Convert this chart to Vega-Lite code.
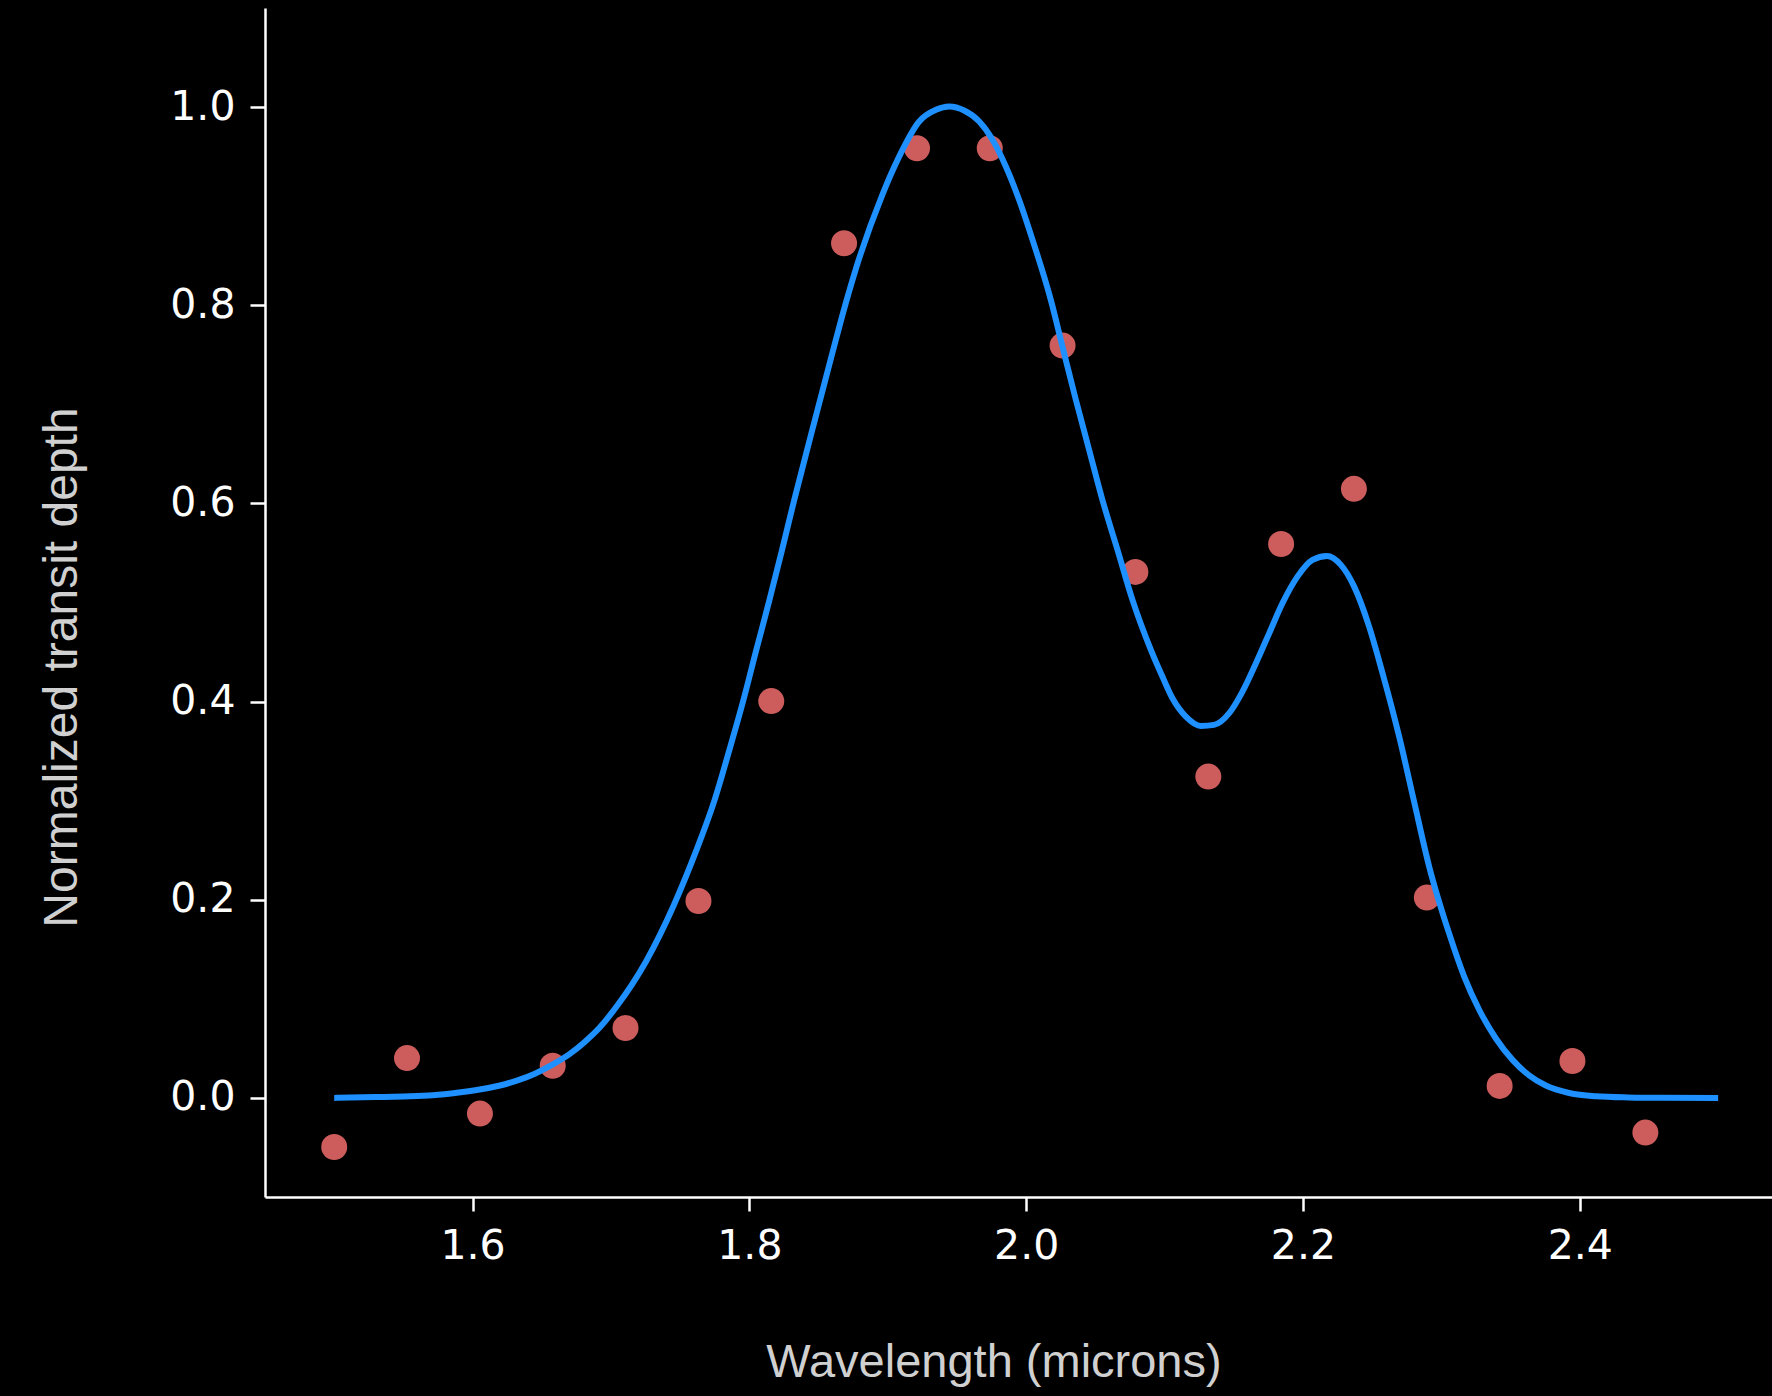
{
  "$schema": "https://vega.github.io/schema/vega-lite/v6.json",
  "width": 1507,
  "height": 1189,
  "autosize": {"type": "none"},
  "padding": {"left": 265, "top": 8, "right": 0, "bottom": 199},
  "background": "#000000",
  "config": {"view": {"stroke": null}},
  "datasets": {
    "points": [
      {"wavelength": 1.5, "depth": -0.0495},
      {"wavelength": 1.5526, "depth": 0.0402},
      {"wavelength": 1.6053, "depth": -0.0158},
      {"wavelength": 1.6579, "depth": 0.0325},
      {"wavelength": 1.7105, "depth": 0.0705},
      {"wavelength": 1.7632, "depth": 0.1988},
      {"wavelength": 1.8158, "depth": 0.4005},
      {"wavelength": 1.8684, "depth": 0.8626},
      {"wavelength": 1.9211, "depth": 0.9585},
      {"wavelength": 1.9737, "depth": 0.9585},
      {"wavelength": 2.0263, "depth": 0.7593},
      {"wavelength": 2.0789, "depth": 0.5309},
      {"wavelength": 2.1316, "depth": 0.3243},
      {"wavelength": 2.1842, "depth": 0.5591},
      {"wavelength": 2.2368, "depth": 0.6147},
      {"wavelength": 2.2895, "depth": 0.2022},
      {"wavelength": 2.3421, "depth": 0.0121},
      {"wavelength": 2.3947, "depth": 0.0373},
      {"wavelength": 2.4474, "depth": -0.035}
    ],
    "curve": [
      {"wavelength": 1.5, "depth": 0.0},
      {"wavelength": 1.53, "depth": 0.0008},
      {"wavelength": 1.55, "depth": 0.0015},
      {"wavelength": 1.571, "depth": 0.0027},
      {"wavelength": 1.59, "depth": 0.0055},
      {"wavelength": 1.605, "depth": 0.0085},
      {"wavelength": 1.619, "depth": 0.0123},
      {"wavelength": 1.632, "depth": 0.0175},
      {"wavelength": 1.645, "depth": 0.0245},
      {"wavelength": 1.6577, "depth": 0.0336},
      {"wavelength": 1.67, "depth": 0.0442},
      {"wavelength": 1.681, "depth": 0.0565},
      {"wavelength": 1.6915, "depth": 0.0705},
      {"wavelength": 1.7047, "depth": 0.0935},
      {"wavelength": 1.7252, "depth": 0.1375},
      {"wavelength": 1.7457, "depth": 0.1955},
      {"wavelength": 1.7613, "depth": 0.2485},
      {"wavelength": 1.7746, "depth": 0.2995},
      {"wavelength": 1.7854, "depth": 0.3505},
      {"wavelength": 1.7955, "depth": 0.4005},
      {"wavelength": 1.8047, "depth": 0.4505},
      {"wavelength": 1.8143, "depth": 0.5015},
      {"wavelength": 1.8235, "depth": 0.5525},
      {"wavelength": 1.8324, "depth": 0.6035},
      {"wavelength": 1.8456, "depth": 0.675},
      {"wavelength": 1.86, "depth": 0.752},
      {"wavelength": 1.8697, "depth": 0.8024},
      {"wavelength": 1.877, "depth": 0.837},
      {"wavelength": 1.8962, "depth": 0.912},
      {"wavelength": 1.9082, "depth": 0.95},
      {"wavelength": 1.9227, "depth": 0.9854},
      {"wavelength": 1.9348, "depth": 0.9972},
      {"wavelength": 1.9444, "depth": 1.0005},
      {"wavelength": 1.9552, "depth": 0.9965},
      {"wavelength": 1.9661, "depth": 0.9854},
      {"wavelength": 1.9757, "depth": 0.967},
      {"wavelength": 1.9853, "depth": 0.94},
      {"wavelength": 1.995, "depth": 0.906},
      {"wavelength": 2.0046, "depth": 0.866},
      {"wavelength": 2.0178, "depth": 0.8054},
      {"wavelength": 2.0262, "depth": 0.7583},
      {"wavelength": 2.0359, "depth": 0.7045},
      {"wavelength": 2.0455, "depth": 0.654},
      {"wavelength": 2.0551, "depth": 0.6035},
      {"wavelength": 2.066, "depth": 0.5531},
      {"wavelength": 2.0768, "depth": 0.5026},
      {"wavelength": 2.0901, "depth": 0.4522},
      {"wavelength": 2.0985, "depth": 0.425},
      {"wavelength": 2.1057, "depth": 0.4034},
      {"wavelength": 2.1154, "depth": 0.3848},
      {"wavelength": 2.1262, "depth": 0.3754},
      {"wavelength": 2.1358, "depth": 0.3765},
      {"wavelength": 2.1467, "depth": 0.3883},
      {"wavelength": 2.1563, "depth": 0.4101},
      {"wavelength": 2.166, "depth": 0.4387},
      {"wavelength": 2.1756, "depth": 0.469},
      {"wavelength": 2.1852, "depth": 0.4993},
      {"wavelength": 2.196, "depth": 0.5261},
      {"wavelength": 2.2069, "depth": 0.543},
      {"wavelength": 2.2173, "depth": 0.547},
      {"wavelength": 2.2274, "depth": 0.538},
      {"wavelength": 2.237, "depth": 0.516},
      {"wavelength": 2.2478, "depth": 0.4757},
      {"wavelength": 2.2575, "depth": 0.4286},
      {"wavelength": 2.2695, "depth": 0.3647},
      {"wavelength": 2.2803, "depth": 0.299},
      {"wavelength": 2.2912, "depth": 0.2334},
      {"wavelength": 2.3056, "depth": 0.166},
      {"wavelength": 2.3165, "depth": 0.1225},
      {"wavelength": 2.3273, "depth": 0.089},
      {"wavelength": 2.3394, "depth": 0.06},
      {"wavelength": 2.3514, "depth": 0.0384},
      {"wavelength": 2.3634, "depth": 0.0228},
      {"wavelength": 2.3755, "depth": 0.0125},
      {"wavelength": 2.3923, "depth": 0.005},
      {"wavelength": 2.4116, "depth": 0.0017},
      {"wavelength": 2.435, "depth": 0.0005},
      {"wavelength": 2.46, "depth": 0.0001},
      {"wavelength": 2.5, "depth": 0.0}
    ]
  },
  "encoding": {
    "x": {
      "field": "wavelength",
      "type": "quantitative",
      "scale": {"domain": [1.45, 2.5389], "nice": false, "zero": false},
      "axis": {
        "title": "Wavelength (microns)",
        "values": [1.6, 1.8, 2.0, 2.2, 2.4],
        "format": ".1f",
        "grid": false,
        "labelFlush": false,
        "domainColor": "#ffffff",
        "domainWidth": 2.5,
        "tickColor": "#ffffff",
        "tickWidth": 2.5,
        "tickSize": 14,
        "labelColor": "#ffffff",
        "labelFont": "DejaVu Sans",
        "labelFontSize": 41,
        "labelPadding": 15,
        "titleFont": "Liberation Sans",
        "titleFontSize": 47,
        "titleFontWeight": "normal",
        "titleColor": "#d0d0d0",
        "titleX": 728.5,
        "titleY": 179,
        "titleAlign": "center",
        "titleBaseline": "alphabetic"
      }
    },
    "y": {
      "field": "depth",
      "type": "quantitative",
      "scale": {"domain": [-0.1, 1.1], "nice": false, "zero": false},
      "axis": {
        "title": "Normalized transit depth",
        "values": [0, 0.2, 0.4, 0.6, 0.8, 1.0],
        "format": ".1f",
        "grid": false,
        "domainColor": "#ffffff",
        "domainWidth": 2.5,
        "tickColor": "#ffffff",
        "tickWidth": 2.5,
        "tickSize": 15,
        "labelColor": "#ffffff",
        "labelFont": "DejaVu Sans",
        "labelFontSize": 41,
        "labelPadding": 15,
        "titleFont": "Liberation Sans",
        "titleFontSize": 48,
        "titleFontWeight": "normal",
        "titleColor": "#d0d0d0",
        "titleAngle": -90,
        "titleX": -188.5,
        "titleY": 659,
        "titleAlign": "center",
        "titleBaseline": "alphabetic"
      }
    }
  },
  "layer": [
    {
      "data": {"name": "points"},
      "mark": {"type": "circle", "size": 676, "color": "#CD5C5C", "opacity": 1}
    },
    {
      "data": {"name": "curve"},
      "mark": {"type": "line", "color": "#1E90FF", "strokeWidth": 6, "interpolate": "monotone"}
    }
  ]
}
